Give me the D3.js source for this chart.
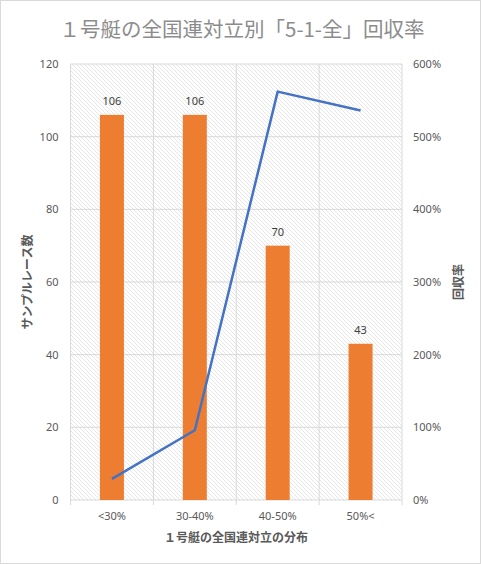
<!DOCTYPE html>
<html>
<head>
<meta charset="utf-8">
<script src="https://cdn.jsdelivr.net/npm/d3@7"></script>
<style>
  html, body { margin: 0; padding: 0; background: #fff; }
  svg { display: block; }
  text { font-family: "Noto Sans CJK JP", "Noto Sans", sans-serif; }
</style>
</head>
<body>
<div id="chart"></div>
<script>
// data
const categories = ['<30%', '30-40%', '40-50%', '50%<'];
const raceCounts = [106, 106, 70, 43];
const returnRates = [0.29, 0.96, 5.62, 5.36];
const leftTicks = [0, 20, 40, 60, 80, 100, 120];
const rightTicks = [0, 1, 2, 3, 4, 5, 6];

const W = 481, H = 564;
const plot = { left: 70.5, right: 402, top: 64, bottom: 500 };

const svg = d3.select('#chart').append('svg')
  .attr('width', W).attr('height', H);

// hatch pattern for plot area
const defs = svg.append('defs');
defs.append('pattern')
  .attr('id', 'hatch')
  .attr('patternUnits', 'userSpaceOnUse')
  .attr('width', 4).attr('height', 4)
  .append('path')
    .attr('d', 'M-1,-1 L5,5 M-1,3 L1,5 M3,-1 L5,1')
    .attr('stroke', '#e0e0e0')
    .attr('stroke-width', 0.8);

// outer border
svg.append('rect')
  .attr('x', 0.5).attr('y', 0.5)
  .attr('width', W - 1).attr('height', H - 1)
  .attr('fill', '#fff')
  .attr('stroke', '#d9d9d9');

// scales
const x = d3.scaleBand()
  .domain(categories)
  .range([plot.left, plot.right]);
const yL = d3.scaleLinear().domain([0, 120]).range([plot.bottom, plot.top]);
const yR = d3.scaleLinear().domain([0, 6]).range([plot.bottom, plot.top]);

// plot background
svg.append('rect')
  .attr('x', plot.left).attr('y', plot.top)
  .attr('width', plot.right - plot.left)
  .attr('height', plot.bottom - plot.top)
  .attr('fill', 'url(#hatch)');

// horizontal gridlines
svg.append('g')
  .selectAll('line')
  .data(leftTicks.slice(1))
  .join('line')
    .attr('x1', plot.left).attr('x2', plot.right)
    .attr('y1', d => yL(d)).attr('y2', d => yL(d))
    .attr('stroke', '#d9d9d9').attr('stroke-width', 1);

// vertical gridlines at category boundaries
const bounds = categories.map(c => x(c)).concat([plot.right]);
svg.append('g')
  .selectAll('line')
  .data(bounds)
  .join('line')
    .attr('x1', d => d).attr('x2', d => d)
    .attr('y1', plot.top).attr('y2', plot.bottom + 5)
    .attr('stroke', '#d9d9d9').attr('stroke-width', 1);

// x axis line
svg.append('line')
  .attr('x1', plot.left).attr('x2', plot.right)
  .attr('y1', plot.bottom).attr('y2', plot.bottom)
  .attr('stroke', '#d9d9d9').attr('stroke-width', 1);

// bars
const barW = 24;
svg.append('g')
  .selectAll('rect')
  .data(raceCounts)
  .join('rect')
    .attr('x', (d, i) => x(categories[i]) + x.bandwidth() / 2 - barW / 2)
    .attr('y', d => yL(d))
    .attr('width', barW)
    .attr('height', d => yL(0) - yL(d))
    .attr('fill', '#ED7D31');

// bar labels
svg.append('g')
  .selectAll('text')
  .data(raceCounts)
  .join('text')
    .attr('x', (d, i) => x(categories[i]) + x.bandwidth() / 2)
    .attr('y', d => yL(d) - 10)
    .attr('text-anchor', 'middle')
    .attr('font-size', 11)
    .attr('fill', '#404040')
    .style('font-family', '"Noto Sans", sans-serif')
    .text(d => d);

// return-rate line
const line = d3.line()
  .x((d, i) => x(categories[i]) + x.bandwidth() / 2)
  .y(d => yR(d));
svg.append('path')
  .datum(returnRates)
  .attr('d', line)
  .attr('fill', 'none')
  .attr('stroke', '#4472C4')
  .attr('stroke-width', 2.5)
  .attr('stroke-linejoin', 'round');

// left axis
const leftAxis = svg.append('g')
  .attr('transform', `translate(${plot.left - 12},0)`)
  .call(d3.axisLeft(yL).tickValues(leftTicks).tickSize(0).tickPadding(0));
leftAxis.select('.domain').remove();
leftAxis.selectAll('text')
  .attr('font-size', 11).attr('fill', '#595959')
  .style('font-family', '"Noto Sans", sans-serif');

// right axis
const rightAxis = svg.append('g')
  .attr('transform', `translate(${plot.right + 11},0)`)
  .call(d3.axisRight(yR).tickValues(rightTicks).tickSize(0).tickPadding(0)
    .tickFormat(d => d3.format('.0%')(d)));
rightAxis.select('.domain').remove();
rightAxis.selectAll('text')
  .attr('font-size', 11).attr('fill', '#595959')
  .style('font-family', '"Noto Sans", sans-serif');

// x axis labels
const bottomAxis = svg.append('g')
  .attr('transform', `translate(0,${plot.bottom + 10})`)
  .call(d3.axisBottom(x).tickSize(0).tickPadding(0));
bottomAxis.select('.domain').remove();
bottomAxis.selectAll('text')
  .attr('font-size', 11).attr('fill', '#595959')
  .attr('dy', '0.9em')
  .style('font-family', '"Noto Sans", sans-serif');

// title
svg.append('text')
  .attr('x', 242).attr('y', 37)
  .attr('text-anchor', 'middle')
  .attr('font-size', 20.5)
  .attr('fill', '#8c8c8c')
  .text('１号艇の全国連対立別「5-1-全」回収率');

// axis titles
svg.append('text')
  .attr('x', 236).attr('y', 542)
  .attr('text-anchor', 'middle')
  .attr('font-size', 12).attr('font-weight', 'bold')
  .attr('fill', '#595959')
  .text('１号艇の全国連対立の分布');

svg.append('text')
  .attr('transform', `translate(32,${(plot.top + plot.bottom) / 2}) rotate(-90)`)
  .attr('text-anchor', 'middle')
  .attr('font-size', 12).attr('font-weight', 'bold')
  .attr('fill', '#595959')
  .text('サンプルレース数');

svg.append('text')
  .attr('transform', `translate(463,${(plot.top + plot.bottom) / 2}) rotate(-90)`)
  .attr('text-anchor', 'middle')
  .attr('font-size', 12).attr('font-weight', 'bold')
  .attr('fill', '#595959')
  .text('回収率');
</script>
</body>
</html>
